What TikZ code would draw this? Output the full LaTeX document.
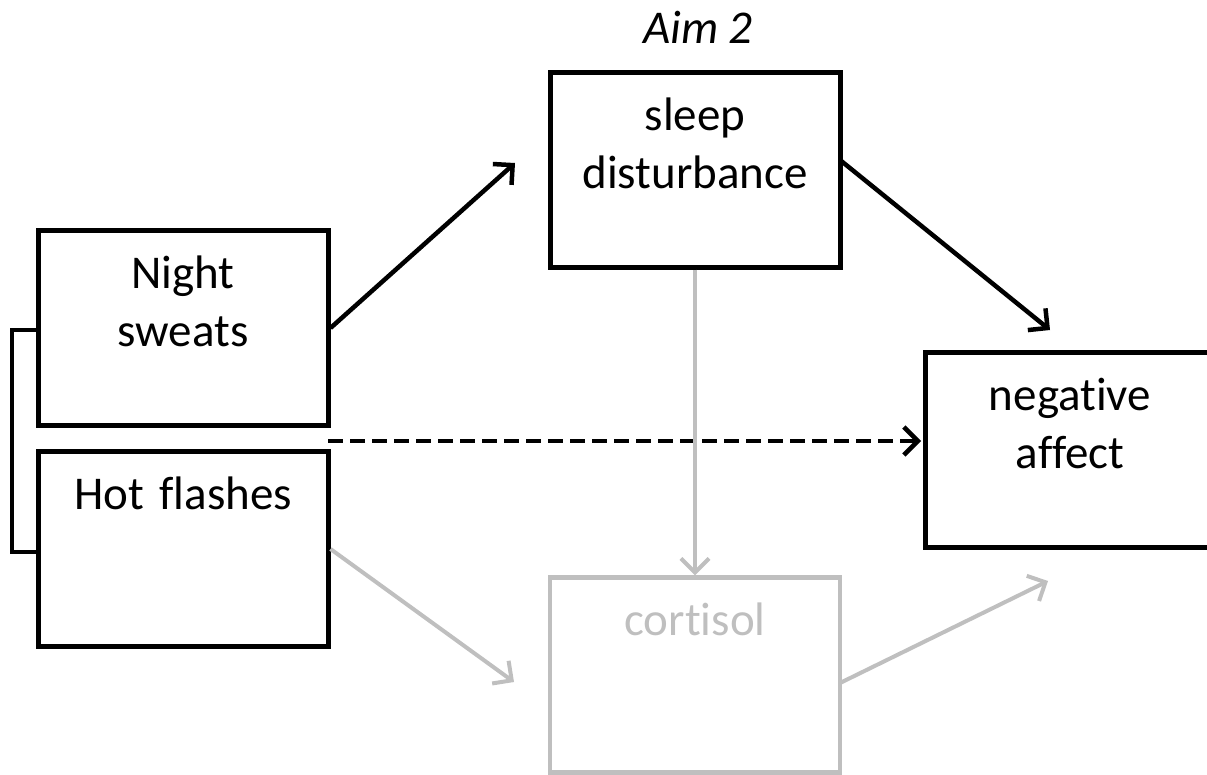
\documentclass[tikz,border=0pt]{standalone}
\usepackage{fontspec}
\setmainfont{Carlito}[Ligatures=NoCommon]
\usetikzlibrary{arrows.meta}
\definecolor{faded}{HTML}{BFBFBF}
\tikzset{
  box/.style={draw, line width=5pt, rectangle, inner sep=0pt, align=center,
    text width=290pt, text height=58pt, text depth=137pt,
    font=\fontsize{47}{58}\selectfont},
  fadedbox/.style={box, line width=4.5pt, draw=faded, text=faded},
  link/.style={line width=4.5pt, -{Straight Barb[length=14pt,width=28pt]}},
  fadedlink/.style={link, line width=4pt, draw=faded},
  altlink/.style={link, dash pattern=on 15pt off 7pt},
}
\begin{document}
\begin{tikzpicture}[x=1pt,y=-1pt]
\useasboundingbox (0,0) rectangle (1207,774);

% variables
\node[box] (ns) at (183,328) {Night\\sweats};
\node[box] (hf) at (183,549) {Hot flashes};
\node[box] (sd) at (695,169.5) {sleep\\disturbance};
\node[box] (na) at (1070,449.5) {negative\\affect};
\node[fadedbox] (co) at (695,675) {cortisol};

% heading
\node[font=\fontsize{47}{58}\selectfont\itshape, anchor=base] (aim) at (698,43) {Aim 2};

% bracket joining the two symptom boxes
\coordinate (b1) at (12,330);
\coordinate (b2) at (12,552);
\draw[line width=4pt] (ns.west |- b1) -- (b1) -- (b2) -- (hf.west |- b2);

% free ends of the paths
\coordinate (t1) at (515,163);
\coordinate (s2) at (840,160);
\coordinate (t2) at (1050,330);
\coordinate (s3) at (328,441);
\coordinate (t3) at (921,441);
\coordinate (t4) at (514,682);
\coordinate (s5) at (840,683);
\coordinate (t5) at (1048,581);

% direct paths
\draw[link] (ns.east) -- (t1);
\draw[link] (s2) -- (t2);
\draw[altlink] (s3) -- (t3);

% mediated paths
\draw[fadedlink] (sd.south) -- (co.north);
\draw[fadedlink] (hf.east) -- (t4);
\draw[fadedlink] (s5) -- (t5);
\end{tikzpicture}
\end{document}
